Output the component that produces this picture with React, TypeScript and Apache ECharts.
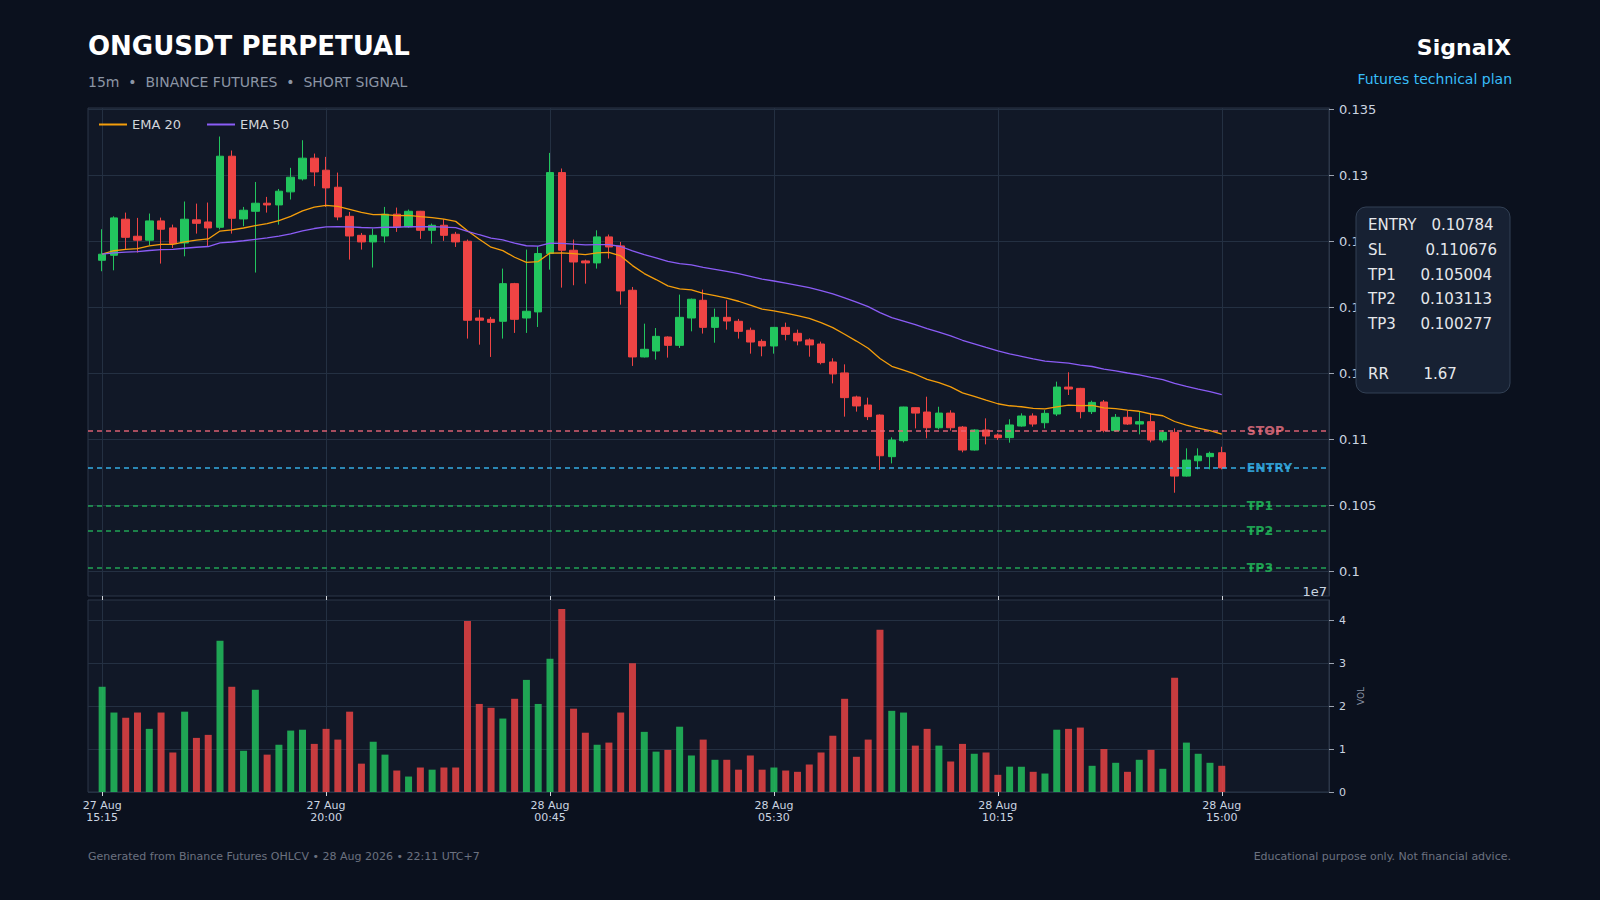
import React, { useEffect, useRef } from 'react';
import * as echarts from 'echarts';

const opens = [
  0.12356, 0.12394, 0.12667, 0.12538, 0.12508, 0.12654, 0.12601, 0.12487, 0.12662, 0.12646,
  0.12606, 0.13144, 0.12669, 0.12727, 0.12788, 0.12775, 0.12874, 0.12972, 0.13129, 0.13038,
  0.12909, 0.12689, 0.12545, 0.12495, 0.12540, 0.12705, 0.12609, 0.12727, 0.12583, 0.12621,
  0.12553, 0.12500, 0.11919, 0.11909, 0.11894, 0.12179, 0.11919, 0.11965, 0.12407, 0.13020,
  0.12432, 0.12351, 0.12336, 0.12533, 0.12465, 0.12129, 0.11624, 0.11669, 0.11775, 0.11712,
  0.11919, 0.12053, 0.11848, 0.11924, 0.11894, 0.11826, 0.11742, 0.11707, 0.11848, 0.11803,
  0.11753, 0.11722, 0.11586, 0.11503, 0.11321, 0.11260, 0.11184, 0.10869, 0.10990, 0.11240,
  0.11207, 0.11088, 0.11199, 0.11093, 0.10919, 0.11071, 0.11033, 0.11013, 0.11101, 0.11177,
  0.11126, 0.11192, 0.11396, 0.11386, 0.11210, 0.11283, 0.11066, 0.11167, 0.11116, 0.11134,
  0.10995, 0.11053, 0.10722, 0.10838, 0.10869, 0.10899,
];
const closes = [
  0.12402, 0.12677, 0.12530, 0.12508, 0.12654, 0.12591, 0.12482, 0.12667, 0.12636, 0.12601,
  0.13144, 0.12674, 0.12735, 0.12788, 0.12775, 0.12879, 0.12985, 0.13129, 0.13025, 0.12904,
  0.12684, 0.12540, 0.12495, 0.12545, 0.12705, 0.12609, 0.12727, 0.12583, 0.12621, 0.12545,
  0.12495, 0.11902, 0.11902, 0.11886, 0.12179, 0.11909, 0.11970, 0.12407, 0.13020, 0.12432,
  0.12343, 0.12336, 0.12533, 0.12457, 0.12124, 0.11624, 0.11682, 0.11780, 0.11712, 0.11924,
  0.12061, 0.11848, 0.11924, 0.11896, 0.11818, 0.11737, 0.11707, 0.11848, 0.11795, 0.11745,
  0.11715, 0.11581, 0.11495, 0.11316, 0.11253, 0.11172, 0.10876, 0.10995, 0.11245, 0.11199,
  0.11088, 0.11199, 0.11088, 0.10919, 0.11071, 0.11025, 0.11013, 0.11109, 0.11177, 0.11116,
  0.11197, 0.11396, 0.11381, 0.11210, 0.11280, 0.11066, 0.11167, 0.11116, 0.11134, 0.10995,
  0.11053, 0.10722, 0.10843, 0.10874, 0.10894, 0.10784,
];
const highs = [
  0.12591, 0.12689, 0.12717, 0.12677, 0.12710, 0.12679, 0.12626, 0.12801, 0.12785, 0.12793,
  0.13293, 0.13187, 0.12760, 0.12949, 0.12836, 0.12896, 0.13056, 0.13265, 0.13164, 0.13139,
  0.13020, 0.12722, 0.12563, 0.12596, 0.12760, 0.12755, 0.12740, 0.12730, 0.12634, 0.12667,
  0.12571, 0.12513, 0.11982, 0.11927, 0.12293, 0.12185, 0.12437, 0.12462, 0.13169, 0.13051,
  0.12513, 0.12361, 0.12583, 0.12551, 0.12495, 0.12154, 0.11876, 0.11843, 0.11780, 0.12096,
  0.12066, 0.12134, 0.11990, 0.12053, 0.11912, 0.11846, 0.11758, 0.11851, 0.11884, 0.11831,
  0.11765, 0.11740, 0.11614, 0.11568, 0.11331, 0.11316, 0.11189, 0.11015, 0.11247, 0.11242,
  0.11323, 0.11247, 0.11220, 0.11101, 0.11076, 0.11159, 0.11045, 0.11152, 0.11197, 0.11197,
  0.11222, 0.11437, 0.11508, 0.11390, 0.11293, 0.11298, 0.11192, 0.11217, 0.11210, 0.11192,
  0.11071, 0.11083, 0.10932, 0.10932, 0.10907, 0.10944,
];
const lows = [
  0.12273, 0.12280, 0.12439, 0.12414, 0.12470, 0.12331, 0.12449, 0.12386, 0.12558, 0.12465,
  0.12590, 0.12558, 0.12614, 0.12263, 0.12717, 0.12626, 0.12816, 0.12960, 0.12917, 0.12760,
  0.12659, 0.12361, 0.12437, 0.12301, 0.12490, 0.12571, 0.12601, 0.12518, 0.12482, 0.12503,
  0.12457, 0.11763, 0.11717, 0.11624, 0.11763, 0.11806, 0.11806, 0.11851, 0.12285, 0.12149,
  0.12167, 0.12179, 0.12293, 0.12369, 0.12020, 0.11556, 0.11620, 0.11604, 0.11619, 0.11692,
  0.11818, 0.11801, 0.11732, 0.11831, 0.11763, 0.11649, 0.11629, 0.11649, 0.11750, 0.11712,
  0.11626, 0.11568, 0.11424, 0.11172, 0.11210, 0.11146, 0.10768, 0.10818, 0.10977, 0.11083,
  0.11008, 0.11076, 0.11066, 0.10902, 0.10915, 0.10962, 0.10995, 0.10975, 0.11096, 0.11096,
  0.11083, 0.11177, 0.11336, 0.11159, 0.11192, 0.11053, 0.11058, 0.11109, 0.11038, 0.10977,
  0.10977, 0.10596, 0.10718, 0.10773, 0.10773, 0.10773,
];
// volume in units of 1e7
const volumes = [
  2.45, 1.85, 1.73, 1.85, 1.47, 1.85, 0.92, 1.87, 1.26, 1.33,
  3.52, 2.45, 0.96, 2.38, 0.87, 1.10, 1.43, 1.45, 1.12, 1.47,
  1.22, 1.87, 0.66, 1.17, 0.87, 0.50, 0.36, 0.57, 0.52, 0.57,
  0.57, 3.98, 2.05, 1.96, 1.71, 2.17, 2.61, 2.05, 3.10, 4.26,
  1.94, 1.38, 1.10, 1.15, 1.85, 3.00, 1.40, 0.94, 0.98, 1.52,
  0.85, 1.22, 0.75, 0.75, 0.52, 0.85, 0.52, 0.57, 0.50, 0.47,
  0.64, 0.92, 1.31, 2.17, 0.82, 1.22, 3.78, 1.89, 1.85, 1.08,
  1.47, 1.08, 0.71, 1.12, 0.89, 0.92, 0.40, 0.59, 0.59, 0.47,
  0.43, 1.45, 1.47, 1.50, 0.61, 1.00, 0.68, 0.47, 0.75, 0.98,
  0.54, 2.66, 1.15, 0.89, 0.68, 0.61,
];

const xTickIdx = [0, 19, 38, 57, 76, 95];
const xTickLabels = ['27 Aug\n15:15', '27 Aug\n20:00', '28 Aug\n00:45', '28 Aug\n05:30', '28 Aug\n10:15', '28 Aug\n15:00'];
const priceTicks = [0.1, 0.105, 0.11, 0.115, 0.12, 0.125, 0.13, 0.135];
const volTicks = [0, 1, 2, 3, 4];

const levelNames = ['STOP', 'ENTRY', 'TP1', 'TP2', 'TP3'];
const levelValues = [0.110676, 0.10784, 0.105004, 0.103113, 0.100277];
const levelLineColors = ['#f0687a', '#38bdf8', '#22b35a', '#22b35a', '#22b35a'];
const levelTextColors = ['#f27585', '#38bdf8', '#22c55e', '#22c55e', '#22c55e'];
const boxLabels = ['ENTRY', 'SL', 'TP1', 'TP2', 'TP3', 'RR'];
const boxValues = ['0.10784', '0.110676', '0.105004', '0.103113', '0.100277', '1.67'];

const FONT = '"DejaVu Sans", sans-serif';
const UP = '#22c55e';
const DOWN = '#ef4444';

function ema(values: number[], period: number): number[] {
  const k = 2 / (period + 1);
  const out: number[] = [];
  let prev = values[0];
  values.forEach((v, i) => {
    prev = i === 0 ? v : prev + k * (v - prev);
    out.push(prev);
  });
  return out;
}

export default function App() {
  const ref = useRef<HTMLDivElement>(null);

  useEffect(() => {
    if (!ref.current) return;
    const chart = echarts.init(ref.current, undefined, { renderer: 'svg' });
    const ema20 = ema(closes, 20);
    const ema50 = ema(closes, 50);
    const XMIN = -1.2;
    const XMAX = 104.1;
    const gridLine = '#243042';
    const tickColor = '#cbd5e1';

    const boxRowY = [224.5, 250, 274.5, 299, 323.5, 373.5];
    const boxValX = [1431.5, 1425.5, 1420.5, 1420.5, 1420.5, 1423.5];

    const graphic: any[] = [
      { type: 'text', x: 88, y: 46, style: { text: 'ONGUSDT PERPETUAL', fill: '#ffffff', font: `bold 26px ${FONT}`, verticalAlign: 'middle' } },
      { type: 'text', x: 88, y: 82, style: { text: '15m  •  BINANCE FUTURES  •  SHORT SIGNAL', fill: '#8b95a5', font: `14px ${FONT}`, verticalAlign: 'middle' } },
      { type: 'text', x: 1511, y: 47, style: { text: 'SignalX', fill: '#ffffff', font: `bold 22px ${FONT}`, align: 'right', verticalAlign: 'middle' } },
      { type: 'text', x: 1512, y: 79, style: { text: 'Futures technical plan', fill: '#38bdf8', font: `14px ${FONT}`, align: 'right', verticalAlign: 'middle' } },
      { type: 'text', x: 88, y: 856, style: { text: 'Generated from Binance Futures OHLCV • 28 Aug 2026 • 22:11 UTC+7', fill: '#6b7280', font: `11px ${FONT}`, verticalAlign: 'middle' } },
      { type: 'text', x: 1511, y: 856, style: { text: 'Educational purpose only. Not financial advice.', fill: '#6b7280', font: `11px ${FONT}`, align: 'right', verticalAlign: 'middle' } },
      { type: 'text', x: 1327, y: 591, style: { text: '1e7', fill: tickColor, font: `13px ${FONT}`, align: 'right', verticalAlign: 'middle' } },
      {
        type: 'rect', z: 100,
        shape: { x: 1356, y: 207, width: 154, height: 186, r: 10 },
        style: { fill: '#172133', stroke: '#334155', lineWidth: 1 },
      },
    ];
    boxLabels.forEach((lab, i) => {
      graphic.push({ type: 'text', z: 101, x: 1368, y: boxRowY[i], style: { text: lab, fill: '#e5e7eb', font: `15px ${FONT}`, verticalAlign: 'middle' } });
      graphic.push({ type: 'text', z: 101, x: boxValX[i], y: boxRowY[i], style: { text: boxValues[i], fill: '#e5e7eb', font: `15px ${FONT}`, verticalAlign: 'middle' } });
    });

    const option: any = {
      animation: false,
      backgroundColor: '#0b111e',
      textStyle: { fontFamily: FONT },
      grid: [
        { left: 88, top: 108, width: 1241, height: 488, show: true, backgroundColor: '#111827', borderColor: '#2c3648', borderWidth: 1 },
        { left: 88, top: 600, width: 1241, height: 192, show: true, backgroundColor: '#111827', borderColor: '#2c3648', borderWidth: 1 },
      ],
      legend: {
        left: 94, top: 113, icon: 'rect', itemWidth: 28, itemHeight: 2, itemGap: 26,
        textStyle: { color: '#d1d5db', fontSize: 13, fontFamily: FONT },
        data: ['EMA 20', 'EMA 50'],
      },
      xAxis: [
        {
          type: 'value', gridIndex: 0, min: XMIN, max: XMAX,
          axisLine: { show: false, onZero: false },
          axisTick: { show: true, customValues: xTickIdx, length: 4, lineStyle: { color: '#d1d5db' } },
          axisLabel: { show: false, customValues: xTickIdx },
          splitLine: { show: true, lineStyle: { color: gridLine, width: 1 } },
        },
        {
          type: 'value', gridIndex: 1, min: XMIN, max: XMAX,
          axisLine: { show: false, onZero: false },
          axisTick: { show: true, customValues: xTickIdx, length: 4, lineStyle: { color: '#d1d5db' } },
          axisLabel: {
            show: true, customValues: xTickIdx, color: tickColor, fontSize: 11, lineHeight: 12, margin: 7, fontFamily: FONT,
            formatter: (v: number) => {
              const k = xTickIdx.indexOf(Math.round(v));
              return k >= 0 ? xTickLabels[k] : '';
            },
          },
          splitLine: { show: true, lineStyle: { color: gridLine, width: 1 } },
        },
      ],
      yAxis: [
        {
          type: 'value', gridIndex: 0, position: 'right', min: 0.09814, max: 0.13509,
          axisLine: { show: true, onZero: false, lineStyle: { color: '#2c3648' } },
          axisTick: { show: true, customValues: priceTicks, length: 5, lineStyle: { color: '#9ca3af' } },
          axisLabel: {
            customValues: priceTicks, color: tickColor, fontSize: 13, margin: 10, fontFamily: FONT,
            formatter: (v: number) => String(+Number(v).toFixed(3)),
          },
          splitLine: { show: true, lineStyle: { color: gridLine, width: 1 } },
        },
        {
          type: 'value', gridIndex: 1, position: 'right', min: 0, max: 4.47,
          name: 'VOL', nameLocation: 'middle', nameGap: 20, nameRotate: 90,
          nameTextStyle: { color: '#8b95a5', fontSize: 9, fontFamily: FONT },
          axisLine: { show: true, onZero: false, lineStyle: { color: '#2c3648' } },
          axisTick: { show: true, customValues: volTicks, length: 5, lineStyle: { color: '#9ca3af' } },
          axisLabel: {
            customValues: volTicks, color: tickColor, fontSize: 11, margin: 10, fontFamily: FONT,
            formatter: (v: number) => String(Math.round(v)),
          },
          splitLine: { show: true, lineStyle: { color: gridLine, width: 1 } },
        },
      ],
      series: [
        {
          type: 'candlestick', name: 'OHLC', xAxisIndex: 0, yAxisIndex: 0,
          data: opens.map((o, i) => [i, o, closes[i], lows[i], highs[i]]),
          encode: { x: 0, y: [1, 2, 3, 4] },
          barWidth: 8,
          itemStyle: { color: UP, color0: DOWN, borderColor: UP, borderColor0: DOWN, borderWidth: 1 },
          z: 3,
        },
        {
          type: 'line', name: 'EMA 20', xAxisIndex: 0, yAxisIndex: 0,
          data: ema20.map((v, i) => [i, v]), symbol: 'none',
          lineStyle: { color: '#f59e0b', width: 1.3 }, itemStyle: { color: '#f59e0b' }, z: 4,
        },
        {
          type: 'line', name: 'EMA 50', xAxisIndex: 0, yAxisIndex: 0,
          data: ema50.map((v, i) => [i, v]), symbol: 'none',
          lineStyle: { color: '#8b5cf6', width: 1.3 }, itemStyle: { color: '#8b5cf6' }, z: 4,
        },
        {
          type: 'scatter', name: 'levels', xAxisIndex: 0, yAxisIndex: 0, symbolSize: 1,
          itemStyle: { color: 'rgba(0,0,0,0)' }, silent: true, z: 5,
          data: levelValues.map((v, i) => ({
            value: [97, v], name: levelNames[i],
            label: {
              show: true, formatter: '{b}', position: 'right', distance: 1,
              color: levelTextColors[i], fontSize: 12.5, fontWeight: 'bold', fontFamily: FONT,
            },
          })),
          markLine: {
            silent: true, symbol: ['none', 'none'], label: { show: false }, precision: 6,
            lineStyle: { type: [5, 4], width: 1.5 },
            data: levelValues.map((v, i) => ({ yAxis: v, lineStyle: { color: levelLineColors[i], type: [5, 4], width: 1.5, opacity: 0.9 } })),
          },
        },
        {
          type: 'bar', name: 'Volume', xAxisIndex: 1, yAxisIndex: 1, barWidth: 7,
          data: volumes.map((v, i) => ({
            value: [i, v],
            itemStyle: { color: closes[i] >= opens[i] ? 'rgba(34,197,94,0.82)' : 'rgba(239,68,68,0.82)' },
          })),
        },
      ],
      graphic,
    };
    chart.setOption(option);
    return () => chart.dispose();
  }, []);

  return <div ref={ref} style={{ position: 'fixed', left: 0, top: 0, width: 1600, height: 900 }} />;
}
